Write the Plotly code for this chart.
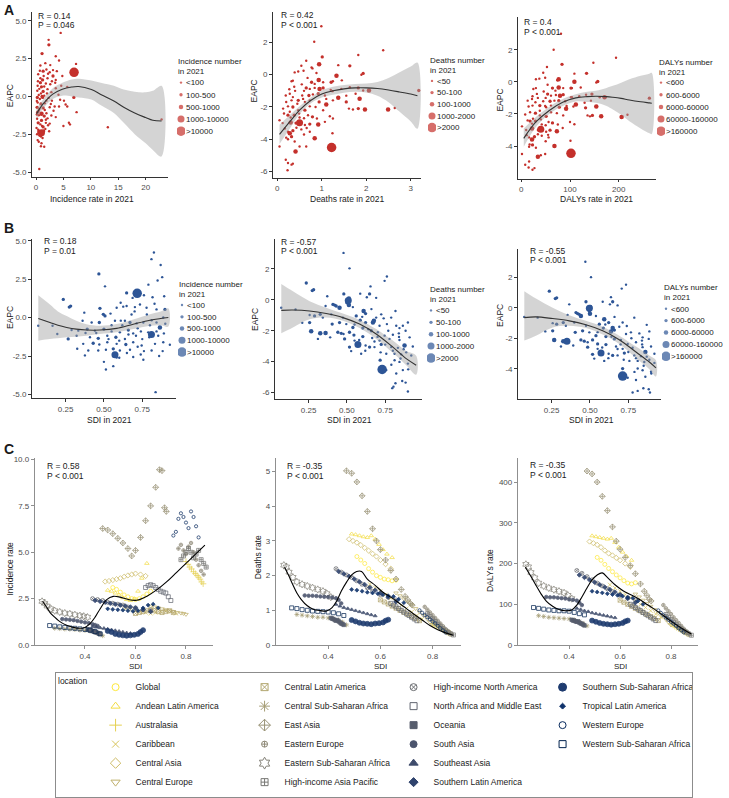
import plotly.graph_objects as go
import plotly.colors as pc

# ======================= DATA =======================
size_labels_inc = ["<100", "100-500", "500-1000", "1000-10000", ">10000"]
size_labels_death = ["<50", "50-100", "100-1000", "1000-2000", ">2000"]
size_labels_daly = ["<600", "600-6000", "6000-60000", "60000-160000", ">160000"]

# ---- A1: incidence rate vs EAPC ----
a1_x = [4.5, 2.3, 2.35, 1.1, 3.6, 4.2, 0.8, 2.6, 7.3, 1.9,
        3.1, 3.8, 1.3, 2.2, 0.4, 4.8, 3.1, 0.8, 1.2, 2.1,
        3.6, 0.8, 1.8, 2.6, 1.0, 3.6, 4.6, 5.7, 0.24, 1.3,
        2.1, 2.8, 4.1, 6.9, 0.24, 0.7, 1.2, 1.9, 2.9, 4.4,
        5.1, 5.4, 5.7, 7.4, 0.2, 0.6, 1.3, 2.5, 3.4, 4.2,
        0.3, 1.0, 1.9, 2.8, 3.6, 0.2, 1.0, 1.8, 2.5, 6.0,
        6.2, 5.0, 0.1, 1.3, 2.2, 13.1, 0.6, 1.0, 1.4, 0.7,
        0.3, 1.0, 1.5, 0.6, 22.9, 6.94, 0.5, 0.9, 1.5, 0.3,
        0.9, 1.6, 2.3, 0.5, 1.5, 2.1, 0.4, 0.8, 1.7, 0.4,
        0.9, 1.2, 0.5, 0.2, 1.6, 2.0, 0.6, 1.5, 3.2, 2.7,
        0.15, 0.35, 1.7, 0.5, 1.1, 2.4, 0.7, 2.9, 1.4, 0.3,
        1.1, 1.8, 0.15, 2.5, 3.5, 0.9]
a1_y = [4.2, 3.74, 3.41, 2.83, 2.65, 2.37, 2.04, 2.07, 2.15, 1.78,
        1.74, 1.67, 1.67, 1.5, 1.46, 1.35, 1.35, 1.2, 1.09, 1.2,
        1.09, 0.91, 0.85, 0.8, 0.63, 0.54, 0.7, 0.63, 0.37, 0.33,
        0.48, 0.28, 0.11, -0.07, -0.07, -0.17, -0.07, -0.28, -0.28, -0.22,
        -0.28, -0.54, -0.67, -1.04, -0.72, -0.83, -0.76, -0.72, -0.67, -0.67,
        -1.04, -1.15, -1.11, -1.26, -1.37, -1.48, -1.59, -1.54, -1.8, -1.74,
        -1.85, -1.96, -2.09, -2.02, -1.91, -2.04, -2.35, -2.41, -2.28, -2.57,
        -2.89, -3.1, -3.33, -4.8, -1.52, 1.59, 0.1, 0.2, 0.05, -0.4,
        -0.5, -0.45, -0.1, -1.25, -1.3, -1.45, -1.75, -1.85, -2.15, -2.2,
        -2.65, -2.75, -3.0, -2.5, -0.9, 0.2, 0.5, 0.65, -0.95, -0.5,
        -0.3, 1.0, 2.2, -0.95, -1.95, -2.3, 1.7, 1.0, 1.35, 0.7,
        0.0, -1.75, -1.2, 1.6, 0.9, -3.3]
a1_cat = [0, 0, 1, 1, 0, 0, 0, 0, 0, 0,
          0, 0, 1, 0, 0, 0, 1, 0, 1, 0,
          0, 1, 0, 0, 1, 0, 0, 0, 0, 1,
          0, 0, 0, 1, 1, 0, 1, 0, 0, 0,
          0, 0, 0, 0, 1, 0, 1, 0, 0, 0,
          1, 2, 0, 0, 0, 0, 1, 0, 0, 0,
          0, 0, 0, 1, 0, 0, 2, 3, 1, 1,
          0, 0, 0, 0, 0, 4, 0, 0, 0, 0,
          1, 0, 0, 0, 1, 0, 1, 0, 0, 0,
          0, 0, 0, 0, 0, 0, 0, 0, 0, 0,
          0, 0, 0, 0, 0, 0, 0, 0, 0, 0,
          1, 0, 0, 0, 0, 0]
a1_fit_x = [0.1, 1.3, 3.06, 4.8, 6.5, 7.8, 10.1, 12.0, 14.2, 16.0, 18.0, 20.0, 21.3, 22.9]
a1_fit_y = [-1.15, -0.5, 0.15, 0.48, 0.62, 0.65, 0.45, 0.1, -0.3, -0.72, -1.1, -1.4, -1.58, -1.63]
a1_fit_hi = [-0.8, -0.2, 0.54, 0.9, 1.12, 1.17, 1.05, 0.88, 0.7, 0.45, 0.3, 0.27, 0.37, 0.7]
a1_fit_lo = [-1.48, -0.8, -0.17, 0.05, 0.0, -0.07, -0.2, -0.62, -1.1, -1.75, -2.5, -3.1, -3.54, -3.98]

# ---- A2: deaths rate vs EAPC ----
a2_x = [0.99, 0.83, 2.38, 1.82, 1.01,
        0.65, 0.54, 0.94, 0.77, 0.79, 1.37, 1.63, 1.93, 1.89,
        0.39, 0.47, 0.59, 0.93, 1.33, 1.21,
        0.32, 0.35, 0.68, 0.77, 0.84, 1.03, 1.25,
        0.65, 0.73, 0.84, 0.95, 1.03, 1.2, 1.44, 1.63, 1.82, 1.93,
        0.19, 0.28, 0.35, 0.56, 0.71, 0.8, 0.92, 1.07, 1.24, 1.37, 1.76, 1.85, 2.06,
        0.2, 0.32, 0.47, 0.62, 0.73, 0.94, 1.1, 1.25, 1.55, 1.61, 1.7, 1.82, 1.97, 2.49, 2.64, 3.18,
        0.13, 0.24, 0.35, 0.47, 0.62, 0.73, 0.86, 1.03, 1.18, 1.25,
        0.05, 0.24, 0.3, 0.38, 0.49, 0.69, 0.79, 0.89,
        0.3, 0.5, 0.62, 0.73, 0.92, 1.07,
        0.17, 0.24, 0.28, 0.35, 0.43, 0.54, 0.73, 0.84, 1.24,
        0.05, 0.24, 0.32, 0.39, 0.5, 0.41, 0.65, 1.22,
        0.19, 0.24, 0.32, 0.35, 0.23,
        0.4, 0.55, 0.6, 0.45, 0.15, 0.28, 0.6, 0.42, 0.2, 0.6,
        0.12, 0.38, 0.58, 1.1, 1.45, 1.55, 0.27, 0.88, 0.5, 0.66]
a2_y = [3.0, 2.04, 1.51, 1.22, 1.1,
        0.86, 0.55, 0.65, 0.45, 0.39, 0.59, 0.55, 0.08, 0.0,
        0.14, 0.2, 0.24, -0.33, -0.06, -0.47,
        -0.41, -0.37, -0.2, -0.47, -0.57, -0.47, -0.41,
        -0.82, -0.88, -0.82, -0.88, -0.82, -0.94, -0.88, -0.78, -0.82, -0.98,
        -1.29, -1.18, -1.39, -1.29, -1.29, -1.22, -1.18, -1.29, -1.02, -1.43, -1.18, -1.49, -0.98,
        -1.69, -1.59, -1.59, -1.69, -1.59, -1.69, -1.84, -1.59, -1.69, -2.1, -2.16, -2.1, -2.16, -2.16, -2.06, -0.98,
        -2.1, -1.96, -2.0, -2.2, -2.2, -1.96, -2.0, -2.2, -2.57, -2.71,
        -2.82, -2.51, -2.65, -2.51, -2.41, -2.51, -2.61, -2.71,
        -2.96, -2.98, -3.12, -3.06, -3.08, -2.92,
        -3.33, -3.53, -3.63, -3.47, -3.29, -3.39, -3.53, -3.94, -3.63,
        -4.45, -4.0, -3.84, -4.14, -4.45, -4.76, -4.45, -4.51,
        -5.27, -5.47, -5.57, -5.51, -5.92,
        -1.0, -0.6, -1.0, -1.8, -2.4, -2.3, -2.7, -3.0, -3.9, -3.7,
        -3.0, -0.75, -1.5, -1.5, -0.35, -1.3, -0.9, 0.1, -2.65, -3.3]
a2_cat = [0, 0, 0, 0, 1,
          0, 0, 2, 0, 0, 0, 1, 1, 0,
          0, 0, 0, 2, 2, 1,
          0, 0, 0, 1, 0, 0, 0,
          1, 0, 0, 2, 1, 0, 0, 0, 1, 0,
          0, 0, 0, 0, 1, 0, 1, 0, 0, 2, 0, 2, 2,
          0, 0, 1, 0, 0, 1, 2, 0, 1, 0, 0, 1, 2, 2, 0, 1,
          0, 0, 1, 0, 1, 0, 0, 0, 0, 0,
          0, 1, 0, 1, 0, 0, 1, 0,
          2, 3, 0, 1, 2, 0,
          0, 0, 2, 1, 0, 0, 0, 2, 0,
          0, 0, 1, 0, 0, 2, 0, 4,
          0, 0, 0, 0, 0,
          0, 0, 0, 0, 0, 0, 0, 1, 0, 0,
          0, 0, 0, 0, 0, 0, 0, 0, 0, 0]
a2_fit_x = [0.05, 0.3, 0.5, 0.75, 1.0, 1.25, 1.5, 1.75, 2.0, 2.25, 2.5, 2.75, 3.0, 3.15]
a2_fit_y = [-3.7, -2.85, -2.2, -1.6, -1.2, -1.0, -0.88, -0.82, -0.82, -0.86, -0.95, -1.07, -1.2, -1.3]
a2_fit_hi = [-3.1, -2.45, -1.95, -1.42, -0.98, -0.75, -0.64, -0.58, -0.55, -0.45, -0.2, 0.15, 0.5, 0.75]
a2_fit_lo = [-4.3, -3.25, -2.45, -1.78, -1.42, -1.25, -1.12, -1.06, -1.1, -1.3, -1.7, -2.3, -2.9, -3.35]

# ---- A3: DALYs rate vs EAPC ----
a3_x = [81.5, 66.4, 194.5, 148, 83.6, 52.7,
        45, 76.7, 74.7, 109, 134, 157, 154,
        30, 37, 49, 76.7, 109, 102,
        24.7, 30, 54, 64, 70, 86, 104,
        54, 61, 71, 79.5, 86, 102, 119, 133, 145, 161,
        13, 22, 29, 45, 59, 68, 77, 90, 104, 112, 143, 154, 171,
        15, 23, 38, 51, 61, 78, 92, 107, 132, 136, 141, 146, 164, 206, 218, 263,
        8, 18, 29, 38, 51, 61, 73, 86, 100, 109,
        1.4, 18, 22, 29, 40, 56, 64, 75,
        22, 40, 51, 59, 73, 85,
        11, 16, 22, 27, 34, 42, 56, 68, 101,
        1.4, 16, 23, 30, 40, 34, 49, 102,
        8, 15, 23, 27, 16,
        34, 46, 50, 38, 13, 24, 50, 35, 17, 50,
        10, 32, 49, 93, 122, 130, 23, 74, 42, 55]
a3_y = [2.99, 2.0, 1.5, 1.19, 1.09, 0.92,
        0.57, 0.16, 0.1, 0.51, 0.53, 0.02, -0.04,
        0.16, 0.2, 0.25, -0.35, 0.0, -0.39,
        -0.45, -0.39, -0.18, -0.39, -0.55, -0.39, -0.39,
        -0.76, -0.86, -0.82, -0.86, -0.8, -0.96, -0.9, -0.8, -0.76, -0.96,
        -1.17, -1.07, -1.27, -1.21, -1.21, -1.17, -1.17, -1.21, -0.96, -1.41, -1.17, -1.54, -0.96,
        -1.54, -1.48, -1.48, -1.58, -1.48, -1.58, -1.68, -1.54, -1.62, -2.09, -2.15, -2.09, -2.15, -2.19, -2.05, -1.02,
        -2.03, -1.89, -1.95, -2.09, -2.15, -1.89, -1.95, -2.09, -2.5, -2.64,
        -2.77, -2.44, -2.6, -2.44, -2.34, -2.5, -2.56, -2.66,
        -2.91, -2.95, -3.11, -3.01, -3.07, -2.87,
        -3.32, -3.46, -3.59, -3.42, -3.26, -3.36, -3.46, -3.99, -3.67,
        -4.49, -4.04, -3.93, -4.1, -4.57, -4.67, -4.49, -4.45,
        -5.16, -5.33, -5.47, -5.37, -4.96,
        -1.0, -0.6, -1.0, -1.8, -2.4, -2.3, -2.7, -3.0, -3.9, -3.7,
        -3.0, -0.75, -1.5, -1.5, -0.35, -1.3, -0.9, 0.1, -2.65, -3.3]
a3_cat = [0, 0, 0, 0, 1, 0,
          0, 2, 0, 0, 1, 1, 0,
          0, 0, 0, 2, 2, 1,
          0, 0, 0, 1, 0, 0, 0,
          1, 0, 0, 2, 1, 0, 0, 0, 1, 0,
          0, 0, 0, 0, 1, 0, 1, 0, 0, 2, 0, 2, 2,
          0, 0, 1, 0, 0, 1, 2, 0, 1, 0, 0, 1, 2, 2, 0, 1,
          0, 0, 1, 0, 1, 0, 0, 0, 0, 0,
          0, 1, 0, 1, 0, 0, 1, 0,
          2, 3, 0, 1, 2, 0,
          0, 0, 2, 1, 0, 0, 0, 2, 0,
          0, 0, 1, 0, 0, 2, 0, 4,
          0, 0, 0, 0, 0,
          0, 0, 0, 0, 0, 0, 0, 1, 0, 0,
          0, 0, 0, 0, 0, 0, 0, 0, 0, 0]
a3_fit_x = [5, 30, 57.5, 85, 112, 135, 153, 175, 188, 205, 222, 245, 263, 268]
a3_fit_y = [-3.52, -2.5, -1.78, -1.27, -1.0, -0.92, -0.9, -0.92, -0.96, -1.03, -1.13, -1.24, -1.31, -1.33]
a3_fit_hi = [-2.91, -2.19, -1.55, -1.07, -0.78, -0.62, -0.55, -0.38, -0.25, -0.05, 0.16, 0.38, 0.51, 0.55]
a3_fit_lo = [-4.04, -2.81, -2.0, -1.5, -1.22, -1.25, -1.3, -1.5, -1.72, -2.05, -2.45, -2.9, -3.2, -3.25]

# ---- B1: SDI vs EAPC (incidence) ----
b1_x = [0.826, 0.81, 0.87, 0.88, 0.467, 0.507, 0.85, 0.79, 0.717,
        0.235, 0.274, 0.283, 0.648, 0.687, 0.761, 0.817, 0.893, 0.609, 0.626,
        0.474, 0.583, 0.648, 0.702, 0.735, 0.778, 0.843, 0.898, 0.372, 0.496, 0.543, 0.507,
        0.072, 0.165, 0.361, 0.42, 0.47, 0.572, 0.637, 0.67, 0.713, 0.757, 0.811, 0.843, 0.887,
        0.289, 0.333, 0.391, 0.441, 0.5, 0.55, 0.604, 0.659, 0.691, 0.741, 0.789, 0.843, 0.865, 0.891,
        0.196, 0.267, 0.322, 0.409, 0.463, 0.522, 0.578, 0.637, 0.709, 0.796, 0.854, 0.81,
        0.365, 0.43, 0.47, 0.522, 0.583, 0.643, 0.691, 0.746, 0.833, 0.887, 0.93,
        0.326, 0.398, 0.463, 0.513, 0.561, 0.604, 0.67, 0.761, 0.811, 0.883,
        0.376, 0.572, 0.6, 0.691, 0.757, 0.5, 0.513, 0.561, 0.837, 0.583,
        0.62, 0.66, 0.72, 0.6, 0.68, 0.75, 0.8, 0.86, 0.55, 0.45,
        0.65, 0.72, 0.78, 0.83, 0.7, 0.38, 0.53, 0.9, 0.61, 0.74]
b1_y = [4.23, 3.8, 3.42, 2.63, 2.84, 2.03, 2.41, 2.14, 1.58,
        1.18, 0.68, 0.75, 1.6, 1.28, 1.45, 1.32, 1.39, 0.96, 0.71,
        0.6, 0.64, 0.75, 0.68, 0.85, 0.64, 0.53, 0.53, 0.32, 0.21, 0.26, 0.11,
        -0.53, -0.53, -0.21, -0.32, -0.32, -0.21, -0.21, -0.32, -0.38, -0.32, -0.17, -0.32, 0.0,
        -0.81, -0.85, -0.75, -0.85, -0.75, -0.9, -0.96, -0.81, -1.03, -0.9, -0.96, -0.9, -0.64, -1.03,
        -1.07, -1.39, -1.18, -1.28, -1.35, -1.18, -1.28, -1.39, -1.18, -1.28, -1.18, -1.1,
        -1.71, -1.67, -1.75, -1.6, -1.71, -1.75, -1.6, -1.82, -1.71, -1.6, -1.77,
        -2.03, -2.14, -2.14, -2.09, -2.03, -2.14, -2.09, -2.18, -2.14, -2.18,
        -2.46, -2.42, -2.61, -2.56, -2.74, -2.88, -3.38, -3.16, -4.85, -2.6,
        -0.5, -1.1, -0.7, -1.5, 0.2, -1.4, -0.5, -2.5, -0.5, -1.0,
        -2.3, -1.9, 0.2, 0.9, 0.4, -1.0, -1.4, -0.4, -0.2, -2.4]
b1_cat = [0, 0, 0, 0, 1, 0, 0, 0, 4,
          1, 1, 1, 1, 0, 0, 0, 0, 0, 0,
          1, 0, 0, 0, 0, 0, 0, 1, 0, 1, 0, 1,
          0, 0, 0, 0, 1, 0, 0, 1, 0, 0, 0, 0, 0,
          0, 0, 1, 0, 1, 0, 0, 1, 0, 0, 0, 0, 2, 0,
          0, 1, 0, 0, 1, 0, 1, 0, 0, 0, 0, 3,
          0, 1, 0, 0, 0, 1, 0, 0, 0, 0, 0,
          0, 0, 0, 0, 1, 0, 0, 0, 0, 0,
          0, 3, 0, 0, 0, 0, 0, 0, 0, 0,
          0, 0, 0, 0, 0, 0, 0, 0, 0, 0,
          0, 0, 0, 0, 0, 0, 0, 0, 0, 0]
b1_fit_x = [0.072, 0.148, 0.2, 0.257, 0.32, 0.387, 0.474, 0.583, 0.691, 0.8, 0.87, 0.92]
b1_fit_y = [-0.06, -0.32, -0.5, -0.64, -0.75, -0.81, -0.81, -0.7, -0.43, -0.17, -0.06, 0.0]
b1_fit_hi = [1.45, 0.85, 0.4, 0.1, -0.2, -0.43, -0.53, -0.42, -0.12, 0.22, 0.4, 0.6]
b1_fit_lo = [-1.5, -1.39, -1.35, -1.28, -1.25, -1.18, -1.07, -0.96, -0.75, -0.53, -0.5, -0.58]

# ---- B2: SDI vs EAPC (deaths) ----
b2_x = [0.478, 0.517, 0.761, 0.746, 0.235, 0.274, 0.283, 0.654, 0.648, 0.48, 0.587, 0.63, 0.691,
        0.509, 0.513, 0.513, 0.5, 0.372, 0.072, 0.165, 0.257, 0.289,
        0.409, 0.42, 0.43, 0.452, 0.361, 0.539, 0.609, 0.622, 0.67, 0.676, 0.724, 0.789, 0.817, 0.865, 0.898,
        0.326, 0.343, 0.398, 0.474, 0.561, 0.587, 0.622, 0.691, 0.713, 0.761, 0.822, 0.843,
        0.209, 0.257, 0.404, 0.452, 0.496, 0.539, 0.604, 0.659, 0.702, 0.746, 0.8, 0.839, 0.883,
        0.267, 0.326, 0.361, 0.441, 0.463, 0.517, 0.478, 0.546, 0.604, 0.665, 0.713, 0.778, 0.843, 0.909,
        0.311, 0.391, 0.485, 0.55, 0.572, 0.622, 0.648, 0.68, 0.724, 0.789, 0.833, 0.876, 0.93,
        0.517, 0.528, 0.593, 0.757, 0.811, 0.854, 0.887, 0.92, 0.717, 0.73, 0.811, 0.843, 0.898,
        0.757, 0.822, 0.865, 0.804, 0.817, 0.861, 0.883, 0.898, 0.796,
        0.64, 0.7, 0.75, 0.8, 0.85, 0.87, 0.77, 0.68, 0.6, 0.55,
        0.72, 0.79, 0.9, 0.66, 0.58, 0.62, 0.84, 0.74]
b2_y = [3.04, 2.04, 1.51, 1.23, 1.09, 0.6, 0.66, 0.87, 0.38, 0.38, 0.4, 0.17, 0.13,
        -0.04, -0.34, 0.09, -0.19, 0.23, -0.51, -0.62, -0.98, -1.04,
        -0.3, -0.34, -0.4, -0.51, -0.4, -0.47, -0.72, -0.89, -1.47, -1.36, -0.94, -1.15, -0.72, -1.68, -1.47,
        -0.94, -1.15, -0.94, -1.15, -1.04, -1.32, -1.47, -1.15, -1.68, -1.57, -1.68, -1.83,
        -1.49, -1.47, -1.57, -1.47, -1.57, -1.79, -1.83, -2.0, -2.1, -2.32, -2.26, -2.17, -2.0,
        -2.04, -2.17, -2.15, -2.1, -2.17, -2.1, -2.21, -2.28, -2.38, -2.47, -2.64, -2.53, -2.6, -2.43,
        -2.53, -2.43, -2.53, -2.64, -2.89, -2.96, -3.06, -3.06, -2.89, -3.06, -3.11, -2.96, -3.02,
        -3.06, -3.32, -3.49, -3.49, -3.49, -3.53, -3.4, -3.6, -3.91, -4.51, -3.91, -4.02, -4.13,
        -4.55, -4.77, -4.55, -5.62, -5.4, -5.26, -5.36, -5.94, -5.72,
        -1.9, -2.4, -2.9, -3.3, -3.8, -3.2, -2.0, -2.7, -1.1, -1.6,
        -3.4, -4.2, -4.5, -0.6, -2.6, -3.3, -2.4, -1.2]
b2_cat = [0, 0, 0, 0, 1, 1, 1, 0, 1, 1, 0, 0, 0,
          3, 2, 2, 1, 0, 0, 0, 0, 1,
          1, 1, 1, 2, 0, 0, 2, 1, 2, 2, 0, 0, 0, 0, 0,
          1, 0, 0, 0, 1, 1, 1, 0, 0, 0, 0, 0,
          0, 1, 1, 1, 0, 1, 1, 1, 0, 0, 0, 0, 0,
          2, 2, 2, 1, 1, 1, 0, 1, 1, 0, 0, 0, 0, 0,
          0, 0, 1, 0, 3, 0, 1, 0, 1, 0, 0, 2, 0,
          1, 0, 0, 0, 0, 0, 0, 0, 1, 4, 0, 0, 0,
          0, 0, 0, 0, 0, 0, 0, 0, 0,
          0, 0, 0, 0, 0, 0, 0, 0, 0, 0,
          0, 0, 0, 0, 0, 0, 0, 0]
b2_fit_x = [0.072, 0.148, 0.257, 0.365, 0.474, 0.583, 0.691, 0.8, 0.887, 0.952]
b2_fit_y = [-0.68, -0.66, -0.72, -0.89, -1.15, -1.57, -2.21, -3.06, -3.81, -4.23]
b2_fit_hi = [1.02, 0.55, -0.09, -0.51, -0.89, -1.3, -1.89, -2.64, -3.32, -3.62]
b2_fit_lo = [-2.17, -1.79, -1.26, -1.15, -1.36, -1.83, -2.53, -3.43, -4.23, -4.85]

# ---- B3: SDI vs EAPC (DALYs) ----
b3_x = [0.47, 0.507, 0.735, 0.707, 0.235, 0.274, 0.283, 0.637, 0.648, 0.474, 0.583, 0.63, 0.68,
        0.496, 0.5, 0.502, 0.496, 0.365, 0.072, 0.159, 0.257, 0.283,
        0.409, 0.42, 0.43, 0.441, 0.354, 0.539, 0.593, 0.622, 0.648, 0.637, 0.713, 0.789, 0.87, 0.887,
        0.326, 0.343, 0.398, 0.474, 0.561, 0.587, 0.659, 0.691, 0.735, 0.767, 0.822, 0.843,
        0.209, 0.257, 0.404, 0.452, 0.496, 0.539, 0.604, 0.659, 0.702, 0.746, 0.8, 0.839, 0.883,
        0.267, 0.326, 0.35, 0.441, 0.463, 0.517, 0.485, 0.55, 0.604, 0.67, 0.713, 0.778, 0.843, 0.898,
        0.311, 0.391, 0.485, 0.55, 0.572, 0.622, 0.648, 0.68, 0.724, 0.789, 0.833, 0.861, 0.92,
        0.517, 0.528, 0.593, 0.757, 0.811, 0.854, 0.887, 0.92, 0.713, 0.713, 0.811, 0.843, 0.898,
        0.746, 0.8, 0.861, 0.778, 0.811, 0.848, 0.883, 0.891,
        0.64, 0.7, 0.75, 0.8, 0.85, 0.87, 0.77, 0.68, 0.6, 0.55,
        0.72, 0.79, 0.9, 0.66, 0.58, 0.62, 0.84, 0.74]
b3_y = [3.01, 2.0, 1.51, 1.25, 1.08, 0.6, 0.65, 0.69, 0.39, 0.39, 0.39, 0.22, 0.15,
        -0.04, -0.39, 0.04, -0.22, 0.22, -0.6, -0.65, -1.01, -1.08,
        -0.32, -0.39, -0.43, -0.54, -0.47, -0.54, -0.75, -0.97, -1.33, -1.55, -0.97, -0.65, -1.12, -1.55,
        -0.97, -1.18, -0.97, -1.18, -1.08, -1.33, -1.46, -1.25, -1.72, -1.61, -1.68, -1.94,
        -1.55, -1.51, -1.61, -1.51, -1.61, -1.83, -1.89, -2.04, -2.11, -2.37, -2.26, -2.15, -2.04,
        -2.11, -2.19, -2.19, -2.11, -2.19, -2.11, -2.26, -2.37, -2.41, -2.54, -2.69, -2.62, -2.58, -2.54,
        -2.54, -2.47, -2.58, -2.69, -2.97, -3.01, -3.12, -3.12, -2.97, -3.12, -3.18, -2.9, -3.01,
        -3.05, -3.33, -3.48, -3.48, -3.48, -3.55, -3.4, -3.61, -3.98, -4.47, -3.98, -4.09, -4.19,
        -4.58, -4.73, -4.52, -5.55, -5.44, -5.27, -5.33, -5.55,
        -1.9, -2.4, -2.9, -3.3, -3.8, -3.2, -2.0, -2.7, -1.1, -1.6,
        -3.4, -4.2, -4.3, -0.6, -2.6, -3.3, -2.4, -1.2]
b3_cat = [0, 0, 0, 0, 1, 1, 1, 0, 1, 1, 0, 0, 0,
          3, 2, 2, 1, 0, 0, 0, 0, 1,
          1, 1, 1, 2, 0, 0, 2, 1, 2, 2, 0, 0, 0, 0,
          1, 0, 0, 0, 1, 1, 1, 0, 0, 0, 0, 0,
          0, 1, 1, 1, 0, 1, 1, 1, 0, 0, 0, 0, 0,
          2, 2, 3, 1, 1, 1, 0, 1, 1, 0, 0, 0, 0, 0,
          0, 0, 1, 0, 3, 0, 1, 0, 1, 0, 0, 2, 0,
          1, 0, 0, 0, 0, 0, 0, 0, 1, 4, 0, 0, 0,
          0, 0, 0, 0, 0, 0, 0, 0,
          0, 0, 0, 0, 0, 0, 0, 0, 0, 0,
          0, 0, 0, 0, 0, 0, 0, 0]
b3_fit_x = [0.072, 0.148, 0.257, 0.365, 0.474, 0.583, 0.691, 0.8, 0.887, 0.93]
b3_fit_y = [-0.65, -0.6, -0.71, -0.86, -1.12, -1.51, -2.09, -2.9, -3.55, -3.94]
b3_fit_hi = [1.08, 0.6, 0.0, -0.49, -0.86, -1.25, -1.83, -2.54, -3.12, -3.44]
b3_fit_lo = [-2.15, -1.83, -1.29, -1.18, -1.33, -1.76, -2.37, -3.29, -4.02, -4.5]

# ---- C: regional trajectories 1990-2021 (SDI vs rate) ----
regions = ["Global", "Andean Latin America", "Australasia", "Caribbean", "Central Asia",
           "Central Europe", "Central Latin America", "Central Sub-Saharan Africa", "East Asia",
           "Eastern Europe", "Eastern Sub-Saharan Africa", "High-income Asia Pacific",
           "High-income North America", "North Africa and Middle East", "Oceania", "South Asia",
           "Southeast Asia", "Southern Latin America", "Southern Sub-Saharan Africa",
           "Tropical Latin America", "Western Europe", "Western Sub-Saharan Africa"]

sdi_by_region = {
    "Global": [0.51, 0.525, 0.54, 0.555, 0.57, 0.585, 0.60, 0.615, 0.63, 0.645, 0.66],
    "Andean Latin America": [0.49, 0.505, 0.52, 0.535, 0.55, 0.565, 0.58, 0.595, 0.61, 0.625, 0.645],
    "Australasia": [0.80, 0.808, 0.815, 0.822, 0.83, 0.837, 0.844, 0.85, 0.856, 0.862, 0.868],
    "Caribbean": [0.56, 0.58, 0.60, 0.62, 0.64, 0.66, 0.68, 0.70, 0.72, 0.74, 0.76],
    "Central Asia": [0.48, 0.495, 0.51, 0.525, 0.54, 0.555, 0.57, 0.585, 0.60, 0.62, 0.64],
    "Central Europe": [0.66, 0.675, 0.69, 0.705, 0.72, 0.735, 0.75, 0.765, 0.78, 0.79, 0.80],
    "Central Latin America": [0.60, 0.615, 0.63, 0.645, 0.66, 0.675, 0.69, 0.705, 0.72, 0.735, 0.75],
    "Central Sub-Saharan Africa": [0.28, 0.30, 0.32, 0.34, 0.36, 0.38, 0.40, 0.42, 0.44, 0.455, 0.47],
    "East Asia": [0.47, 0.49, 0.51, 0.53, 0.55, 0.57, 0.585, 0.60, 0.62, 0.64, 0.66, 0.68, 0.695, 0.705, 0.715, 0.722],
    "Eastern Europe": [0.77, 0.78, 0.79, 0.80, 0.81, 0.82, 0.83, 0.84, 0.85, 0.86, 0.87],
    "Eastern Sub-Saharan Africa": [0.23, 0.24, 0.25, 0.265, 0.28, 0.30, 0.32, 0.34, 0.36, 0.38, 0.395, 0.41],
    "High-income Asia Pacific": [0.78, 0.79, 0.80, 0.81, 0.82, 0.83, 0.84, 0.85, 0.86, 0.87, 0.88],
    "High-income North America": [0.43, 0.45, 0.47, 0.49, 0.51, 0.53, 0.55, 0.57, 0.60, 0.63, 0.66],
    "North Africa and Middle East": [0.64, 0.65, 0.66, 0.67, 0.68, 0.69, 0.70, 0.71, 0.72, 0.73, 0.74],
    "Oceania": [0.41, 0.415, 0.42, 0.425, 0.43, 0.435, 0.44, 0.445, 0.45, 0.455, 0.46],
    "South Asia": [0.31, 0.325, 0.34, 0.355, 0.37, 0.385, 0.40, 0.415, 0.43, 0.44, 0.45],
    "Southeast Asia": [0.43, 0.445, 0.46, 0.475, 0.49, 0.505, 0.52, 0.535, 0.55, 0.565, 0.58],
    "Southern Latin America": [0.44, 0.46, 0.48, 0.50, 0.52, 0.54, 0.56, 0.58, 0.60, 0.63, 0.66],
    "Southern Sub-Saharan Africa": [0.49, 0.505, 0.52, 0.535, 0.55, 0.565, 0.58, 0.595, 0.61, 0.62, 0.63],
    "Tropical Latin America": [0.49, 0.51, 0.53, 0.55, 0.57, 0.59, 0.61, 0.63, 0.65, 0.67, 0.69],
    "Western Europe": [0.75, 0.76, 0.77, 0.78, 0.79, 0.80, 0.81, 0.82, 0.83, 0.84, 0.85],
    "Western Sub-Saharan Africa": [0.26, 0.28, 0.30, 0.32, 0.34, 0.36, 0.38, 0.40, 0.42, 0.44, 0.46],
}
inc_by_region = {
    "Global": [3.1, 3.0, 2.85, 2.7, 2.6, 2.5, 2.45, 2.5, 2.6, 2.75, 2.9],
    "Andean Latin America": [2.95, 2.9, 2.8, 2.7, 2.55, 2.45, 2.4, 2.5, 2.9, 3.6, 4.4],
    "Australasia": [4.5, 4.35, 4.2, 4.1, 3.95, 3.85, 3.75, 3.65, 3.55, 3.4, 3.3],
    "Caribbean": [1.95, 1.9, 1.85, 1.8, 1.75, 1.7, 1.75, 1.8, 1.85, 1.8, 1.7],
    "Central Asia": [3.42, 3.45, 3.5, 3.55, 3.6, 3.68, 3.75, 3.8, 3.85, 3.8, 3.72],
    "Central Europe": [2.1, 2.05, 2.0, 1.95, 1.9, 1.85, 1.8, 1.75, 1.72, 1.7, 1.65],
    "Central Latin America": [1.7, 1.75, 1.8, 1.85, 1.9, 1.85, 1.8, 1.75, 1.8, 1.85, 1.75],
    "Central Sub-Saharan Africa": [0.9, 0.88, 0.86, 0.85, 0.83, 0.8, 0.78, 0.75, 0.7, 0.6, 0.5],
    "East Asia": [6.28, 6.2, 6.0, 5.75, 5.5, 5.2, 4.8, 5.1, 5.8, 6.7, 7.5, 8.5, 9.45, 9.4, 7.4, 7.2],
    "Eastern Europe": [5.2, 5.4, 5.1, 4.9, 5.3, 5.5, 5.0, 4.6, 4.3, 4.0, 3.8],
    "Eastern Sub-Saharan Africa": [2.35, 2.25, 2.1, 1.95, 1.85, 1.78, 1.72, 1.68, 1.63, 1.58, 1.55, 1.5],
    "High-income Asia Pacific": [4.6, 4.8, 5.0, 5.2, 5.0, 4.7, 4.9, 5.1, 4.6, 4.4, 4.2],
    "High-income North America": [2.5, 2.45, 2.4, 2.3, 2.25, 2.2, 2.15, 2.05, 2.0, 1.9, 1.85],
    "North Africa and Middle East": [3.1, 3.2, 3.25, 3.2, 3.1, 3.0, 2.9, 2.85, 2.8, 2.6, 2.4],
    "Oceania": [0.85, 0.82, 0.8, 0.78, 0.75, 0.72, 0.7, 0.68, 0.65, 0.62, 0.6],
    "South Asia": [1.4, 1.38, 1.36, 1.34, 1.3, 1.26, 1.22, 1.18, 1.12, 1.08, 1.03],
    "Southeast Asia": [0.99, 0.96, 0.93, 0.9, 0.86, 0.82, 0.78, 0.74, 0.7, 0.66, 0.63],
    "Southern Latin America": [2.4, 2.35, 2.3, 2.25, 2.2, 2.15, 2.1, 2.05, 2.0, 1.9, 1.8],
    "Southern Sub-Saharan Africa": [0.76, 0.7, 0.6, 0.55, 0.52, 0.5, 0.52, 0.55, 0.6, 0.7, 0.8],
    "Tropical Latin America": [1.95, 1.92, 1.9, 1.88, 1.85, 1.82, 1.85, 2.0, 2.15, 2.2, 2.0],
    "Western Europe": [5.9, 6.1, 6.8, 7.1, 6.9, 6.6, 6.3, 7.2, 6.9, 6.4, 5.8],
    "Western Sub-Saharan Africa": [1.05, 1.02, 0.98, 0.95, 0.92, 0.9, 0.87, 0.84, 0.8, 0.72, 0.6],
}
death_by_region = {
    "Global": [2.55, 2.45, 2.35, 2.2, 2.1, 2.0, 1.95, 1.9, 1.88, 1.85, 1.87],
    "Andean Latin America": [3.2, 3.18, 3.15, 3.12, 3.1, 3.15, 3.05, 2.9, 2.75, 2.62, 2.52],
    "Australasia": [0.62, 0.58, 0.55, 0.52, 0.49, 0.46, 0.43, 0.4, 0.37, 0.35, 0.33],
    "Caribbean": [1.75, 1.65, 1.55, 1.45, 1.35, 1.25, 1.15, 1.05, 0.95, 0.85, 0.75],
    "Central Asia": [3.05, 3.0, 2.95, 2.88, 2.8, 2.72, 2.63, 2.55, 2.45, 2.33, 2.2],
    "Central Europe": [1.5, 1.42, 1.33, 1.24, 1.15, 1.05, 0.95, 0.85, 0.75, 0.66, 0.58],
    "Central Latin America": [1.3, 1.24, 1.18, 1.12, 1.06, 1.0, 0.94, 0.88, 0.82, 0.76, 0.7],
    "Central Sub-Saharan Africa": [0.88, 0.86, 0.84, 0.82, 0.8, 0.8, 0.78, 0.76, 0.72, 0.66, 0.58],
    "East Asia": [5.02, 4.95, 4.7, 4.3, 3.85, 3.35, 3.0, 2.75, 2.45, 2.15, 1.9, 1.6, 1.4, 1.3, 1.2, 1.15],
    "Eastern Europe": [1.1, 1.02, 0.94, 0.86, 0.78, 0.7, 0.62, 0.54, 0.46, 0.4, 0.34],
    "Eastern Sub-Saharan Africa": [2.3, 2.25, 2.1, 1.95, 1.82, 1.75, 1.7, 1.65, 1.6, 1.55, 1.48, 1.38],
    "High-income Asia Pacific": [0.9, 0.82, 0.75, 0.68, 0.6, 0.53, 0.47, 0.41, 0.36, 0.32, 0.29],
    "High-income North America": [2.2, 2.1, 2.02, 1.95, 1.85, 1.75, 1.65, 1.55, 1.45, 1.38, 1.3],
    "North Africa and Middle East": [1.2, 1.15, 1.1, 1.05, 1.0, 0.95, 0.9, 0.85, 0.8, 0.75, 0.7],
    "Oceania": [0.78, 0.76, 0.75, 0.72, 0.7, 0.72, 0.68, 0.65, 0.62, 0.6, 0.58],
    "South Asia": [1.43, 1.42, 1.42, 1.41, 1.4, 1.39, 1.38, 1.37, 1.35, 1.3, 1.2],
    "Southeast Asia": [1.17, 1.12, 1.08, 1.05, 1.02, 0.99, 0.96, 0.93, 0.9, 0.87, 0.84],
    "Southern Latin America": [2.12, 2.05, 1.98, 1.9, 1.82, 1.74, 1.66, 1.58, 1.5, 1.38, 1.25],
    "Southern Sub-Saharan Africa": [0.72, 0.68, 0.64, 0.62, 0.61, 0.6, 0.62, 0.63, 0.65, 0.7, 0.73],
    "Tropical Latin America": [1.6, 1.58, 1.55, 1.52, 1.5, 1.48, 1.45, 1.42, 1.4, 1.32, 1.22],
    "Western Europe": [1.0, 0.93, 0.86, 0.8, 0.74, 0.68, 0.62, 0.55, 0.48, 0.42, 0.36],
    "Western Sub-Saharan Africa": [1.07, 1.05, 1.02, 1.0, 0.98, 0.97, 0.96, 0.95, 0.93, 0.9, 0.85],
}
daly_by_region = {
    "Global": [215, 208, 198, 188, 180, 172, 165, 158, 152, 150, 153],
    "Andean Latin America": [268, 266, 264, 262, 260, 262, 252, 240, 228, 218, 208],
    "Australasia": [52, 49, 46, 43, 40, 38, 35, 33, 31, 29, 27],
    "Caribbean": [148, 140, 132, 124, 116, 108, 100, 92, 84, 76, 68],
    "Central Asia": [254, 250, 246, 240, 232, 225, 220, 214, 208, 200, 192],
    "Central Europe": [125, 118, 110, 102, 95, 87, 79, 71, 63, 56, 49],
    "Central Latin America": [110, 105, 100, 95, 90, 85, 80, 75, 70, 65, 60],
    "Central Sub-Saharan Africa": [72, 70, 68, 67, 66, 65, 64, 62, 58, 53, 47],
    "East Asia": [427, 420, 400, 365, 330, 290, 255, 235, 215, 195, 175, 150, 132, 122, 112, 108],
    "Eastern Europe": [98, 90, 83, 76, 68, 61, 54, 47, 40, 34, 29],
    "Eastern Sub-Saharan Africa": [198, 192, 178, 165, 152, 145, 140, 136, 132, 128, 122, 114],
    "High-income Asia Pacific": [75, 68, 62, 56, 50, 45, 40, 35, 31, 27, 24],
    "High-income North America": [183, 176, 168, 160, 152, 145, 138, 130, 122, 116, 110],
    "North Africa and Middle East": [100, 96, 92, 88, 84, 80, 76, 72, 68, 64, 60],
    "Oceania": [62, 60, 60, 58, 57, 58, 55, 53, 52, 50, 48],
    "South Asia": [118, 117, 117, 116, 115, 114, 112, 111, 109, 104, 98],
    "Southeast Asia": [90, 87, 84, 82, 79, 77, 75, 73, 71, 69, 67],
    "Southern Latin America": [172, 166, 160, 154, 148, 142, 136, 130, 124, 114, 104],
    "Southern Sub-Saharan Africa": [60, 57, 54, 52, 51, 50, 51, 52, 54, 58, 60],
    "Tropical Latin America": [132, 130, 128, 126, 124, 122, 120, 117, 115, 108, 100],
    "Western Europe": [85, 79, 73, 67, 62, 57, 52, 47, 41, 36, 31],
    "Western Sub-Saharan Africa": [92, 90, 88, 86, 85, 84, 84, 83, 80, 77, 74],
}
c1_fit_x = [0.232, 0.25, 0.261, 0.28, 0.294, 0.31, 0.327, 0.354, 0.38, 0.40, 0.42, 0.44, 0.459,
            0.486, 0.512, 0.539, 0.572, 0.605, 0.644, 0.684, 0.723, 0.763, 0.803, 0.842, 0.875]
c1_fit_y = [2.36, 2.0, 1.76, 1.5, 1.33, 1.18, 1.07, 0.95, 0.9, 0.95, 1.15, 1.5, 1.93,
            2.45, 2.62, 2.58, 2.45, 2.41, 2.62, 2.97, 3.4, 3.92, 4.44, 4.95, 5.38]
c2_fit_x = [0.233, 0.25, 0.265, 0.28, 0.297, 0.32, 0.342, 0.37, 0.394, 0.415, 0.432, 0.45, 0.471, 0.49,
            0.509, 0.528, 0.55, 0.58, 0.61, 0.64, 0.67, 0.70, 0.73, 0.76, 0.79, 0.82, 0.85, 0.88]
c2_fit_y = [2.24, 1.98, 1.73, 1.5, 1.31, 1.13, 1.03, 0.99, 0.98, 1.08, 1.26, 1.55, 1.82, 2.02,
            2.12, 2.12, 1.9, 1.72, 1.52, 1.38, 1.22, 1.05, 0.88, 0.72, 0.56, 0.44, 0.35, 0.28]
c3_fit_x = [0.228, 0.25, 0.27, 0.29, 0.31, 0.335, 0.36, 0.385, 0.41, 0.43, 0.45, 0.47, 0.49, 0.51,
            0.53, 0.55, 0.58, 0.61, 0.64, 0.67, 0.70, 0.73, 0.76, 0.79, 0.82, 0.85, 0.88]
c3_fit_y = [191, 168, 146, 125, 108, 95, 87, 84, 86, 98, 118, 140, 160, 172,
            177, 166, 148, 134, 124, 114, 102, 90, 77, 63, 50, 38, 27]

# tick labels
ticks_a1_y = [5.0, 2.5, 0.0, -2.5, -5.0]; ticklab_a1_y = ["5.0", "2.5", "0.0", "-2.5", "-5.0"]
ticks_a1_x = [0, 5, 10, 15, 20]; ticklab_a1_x = ["0", "5", "10", "15", "20"]
ticks_a2_y = [2, 0, -2, -4, -6]; ticklab_a2_y = ["2", "0", "-2", "-4", "-6"]
ticks_a2_x = [0, 1, 2, 3]; ticklab_a2_x = ["0", "1", "2", "3"]
ticks_a3_y = [2, 0, -2, -4]; ticklab_a3_y = ["2", "0", "-2", "-4"]
ticks_a3_x = [0, 100, 200]; ticklab_a3_x = ["0", "100", "200"]
ticks_sdi = [0.25, 0.50, 0.75]; ticklab_sdi = ["0.25", "0.50", "0.75"]
ticks_c_x = [0.4, 0.6, 0.8]; ticklab_c_x = ["0.4", "0.6", "0.8"]
ticks_c1_y = [0, 2.5, 5, 7.5, 10]; ticklab_c1_y = ["0.0", "2.5", "5.0", "7.5", "10.0"]
ticks_c2_y = [0, 1, 2, 3, 4, 5]; ticklab_c2_y = ["0", "1", "2", "3", "4", "5"]
ticks_c3_y = [0, 100, 200, 300, 400]; ticklab_c3_y = ["0", "100", "200", "300", "400"]

# ======================= STYLE / LAYOUT =======================
W, H = 729, 798
FONT = "Liberation Sans, Arial, Helvetica, sans-serif"
RED = "#C4302B"
BLUE = "#2D5596"
TXT = "#1a1a1a"
TICKC = "#4D4D4D"
SIZE_PX = [2.4, 3.3, 4.5, 7.0, 9.5]


def fx(p):
    return p / W


def fy(p):
    return 1 - p / H


def ax_ids(n):
    return ("x" if n == 1 else f"x{n}", "y" if n == 1 else f"y{n}")


fig = go.Figure()
layout = dict(width=W, height=H, margin=dict(l=0, r=0, t=0, b=0),
              paper_bgcolor="white", plot_bgcolor="white",
              font=dict(family=FONT, size=8, color=TXT), showlegend=True,
              hovermode=False)


def add_axes(n, xpx, ypx, xr, yr, xt, xtt, yt, ytt, lc="#333333", lw=0.8):
    xid, yid = ax_ids(n)
    common = dict(showline=True, linecolor=lc, linewidth=lw, ticks="outside", ticklen=3,
                  tickwidth=lw, tickcolor=lc, showgrid=False, zeroline=False,
                  tickfont=dict(size=8, color=TICKC, family=FONT), fixedrange=True)
    layout["xaxis" if n == 1 else f"xaxis{n}"] = dict(
        domain=[fx(xpx[0]), fx(xpx[1])], range=xr, anchor=yid,
        tickvals=xt, ticktext=xtt, **common)
    layout["yaxis" if n == 1 else f"yaxis{n}"] = dict(
        domain=[fy(ypx[1]), fy(ypx[0])], range=yr, anchor=xid,
        tickvals=yt, ticktext=ytt, **common)


def scatter_panel(n, xs, ys, cats, color, fx_, fy_, fhi, flo):
    xid, yid = ax_ids(n)
    for c in range(5):
        sx = [x for x, k in zip(xs, cats) if k == c]
        sy = [y for y, k in zip(ys, cats) if k == c]
        fig.add_trace(go.Scatter(x=sx, y=sy, mode="markers", xaxis=xid, yaxis=yid,
                                 marker=dict(size=SIZE_PX[c], color=color, line=dict(width=0)),
                                 showlegend=False, hoverinfo="skip"))
    fig.add_trace(go.Scatter(x=fx_ + fx_[::-1], y=fhi + flo[::-1], mode="lines", fill="toself",
                             fillcolor="rgba(160,160,160,0.45)", line=dict(width=0, shape="spline"),
                             xaxis=xid, yaxis=yid, showlegend=False, hoverinfo="skip"))
    fig.add_trace(go.Scatter(x=fx_, y=fy_, mode="lines", line=dict(color="#333333", width=1.1, shape="spline"),
                             xaxis=xid, yaxis=yid, showlegend=False, hoverinfo="skip"))


def size_legend(n, mx, y_first, y_last, labels, color, title, tx, ty):
    xid, yid = ax_ids(n)
    step = (y_last - y_first) / 4
    layout[f"xaxis{n}"] = dict(domain=[fx(mx - 4), fx(mx + 4)], range=[-1, 1], visible=False,
                               fixedrange=True, anchor=yid)
    layout[f"yaxis{n}"] = dict(domain=[fy(y_last + step / 2), fy(y_first - step / 2)],
                               type="category", categoryorder="array", categoryarray=labels,
                               range=[4.5, -0.5], side="right", anchor=xid, showline=False,
                               showgrid=False, zeroline=False, ticks="", fixedrange=True,
                               tickfont=dict(size=8, color=TXT, family=FONT))
    fig.add_trace(go.Scatter(x=[0] * len(labels), y=labels, mode="markers", xaxis=xid, yaxis=yid,
                             marker=dict(size=SIZE_PX, color=color, line=dict(width=0)),
                             showlegend=False, hoverinfo="skip"))
    annotations.append(dict(x=fx(tx), y=fy(ty), xref="paper", yref="paper", text=title,
                            showarrow=False, xanchor="left", yanchor="middle", align="left",
                            font=dict(size=8, color=TXT, family=FONT)))


annotations = []

# ---- axes ----
add_axes(1, (32, 168), (10, 177), [-0.73, 24.07], [-5.3, 5.59], ticks_a1_x, ticklab_a1_x, ticks_a1_y, ticklab_a1_y)
add_axes(2, (273, 421), (10, 178), [-0.097, 3.23], [-6.37, 3.89], ticks_a2_x, ticklab_a2_x, ticks_a2_y, ticklab_a2_y)
add_axes(3, (518, 656), (15, 179), [-6.8, 276.6], [-6.02, 4.05], ticks_a3_x, ticklab_a3_x, ticks_a3_y, ticklab_a3_y)
add_axes(4, (32, 176), (240, 402), [0.031, 0.97], [-5.26, 5.13], ticks_sdi, ticklab_sdi, ticks_a1_y, ticklab_a1_y)
add_axes(5, (275, 422), (240, 403), [0.031, 0.99], [-6.45, 3.96], ticks_sdi, ticklab_sdi, ticks_a2_y, ticklab_a2_y)
add_axes(6, (518, 661), (250, 403), [0.031, 0.963], [-6.0, 3.87], ticks_sdi, ticklab_sdi, ticks_a3_y, ticklab_a3_y)
add_axes(7, (35, 213), (462, 652), [0.202, 0.907], [0, 10.1], ticks_c_x, ticklab_c_x, ticks_c1_y, ticklab_c1_y, lc="#8f8f8f", lw=1.3)
add_axes(8, (276, 461), (462, 652), [0.2, 0.909], [0, 5.4], ticks_c_x, ticklab_c_x, ticks_c2_y, ticklab_c2_y, lc="#8f8f8f", lw=1.3)
add_axes(9, (518, 698), (462, 652), [0.199, 0.906], [0, 460], ticks_c_x, ticklab_c_x, ticks_c3_y, ticklab_c3_y, lc="#8f8f8f", lw=1.3)

# ---- A / B scatter panels ----
scatter_panel(1, a1_x, a1_y, a1_cat, RED, a1_fit_x, a1_fit_y, a1_fit_hi, a1_fit_lo)
scatter_panel(2, a2_x, a2_y, a2_cat, RED, a2_fit_x, a2_fit_y, a2_fit_hi, a2_fit_lo)
scatter_panel(3, a3_x, a3_y, a3_cat, RED, a3_fit_x, a3_fit_y, a3_fit_hi, a3_fit_lo)
scatter_panel(4, b1_x, b1_y, b1_cat, BLUE, b1_fit_x, b1_fit_y, b1_fit_hi, b1_fit_lo)
scatter_panel(5, b2_x, b2_y, b2_cat, BLUE, b2_fit_x, b2_fit_y, b2_fit_hi, b2_fit_lo)
scatter_panel(6, b3_x, b3_y, b3_cat, BLUE, b3_fit_x, b3_fit_y, b3_fit_hi, b3_fit_lo)

# ---- size legends ----
size_legend(10, 181, 81.7, 131, size_labels_inc, RED, "Incidence number<br>in 2021", 175.5, 65.5)
size_legend(11, 432, 80, 127.3, size_labels_death, RED, "Deaths number<br>in 2021", 427.5, 64.5)
size_legend(12, 661, 81.7, 131, size_labels_daly, RED, "DALYs number<br>in 2021", 657, 66.5)
size_legend(13, 182, 307.3, 355, size_labels_inc, BLUE, "Incidence number<br>in 2021", 177, 291.5)
size_legend(14, 431, 312.7, 361, size_labels_death, BLUE, "Deaths number<br>in 2021", 427.5, 296.7)
size_legend(15, 666, 311, 359.3, size_labels_daly, BLUE, "DALYs number<br>in 2021", 661.5, 295)

# ---- C panels ----
cmap = pc.sample_colorscale(pc.sequential.Cividis, [i / 21 for i in range(22)], colortype="rgb")
colors = cmap[::-1]
symbols = ["circle-open", "triangle-up-open", "cross-thin-open", "x-thin-open", "diamond-open",
           "triangle-down-open", "square-x-open", "asterisk-open", "diamond-cross-open",
           "circle-cross-open", "hexagram-open", "square-cross-open", "circle-x-open",
           "square-open", "square", "circle", "triangle-up", "diamond", "circle", "diamond",
           "circle-open", "square-open"]
msize = [4, 4, 4.5, 4, 4, 4, 4, 4, 4.5, 3.5, 5.5, 4, 4, 4, 3.5, 3.5, 3.5, 3.5, 5, 3, 3.2, 4]
lsize = [7, 8, 9, 7, 8, 8, 7, 9, 9, 6, 9, 7, 7, 7, 7, 7, 8, 7, 8, 4.5, 7, 7]

for i, reg in enumerate(regions):
    rank = (i % 6) * 4 + (i // 6) if i < 18 else (i - 18) * 4 + 3
    for n, vals in [(7, inc_by_region), (8, death_by_region), (9, daly_by_region)]:
        xid, yid = ax_ids(n)
        fig.add_trace(go.Scatter(x=sdi_by_region[reg], y=vals[reg], mode="markers", name=reg,
                                 xaxis=xid, yaxis=yid, showlegend=False, hoverinfo="skip",
                                 marker=dict(symbol=symbols[i], size=msize[i], color=colors[i],
                                             opacity=0.9, line=dict(width=0.8, color=colors[i]))))
    # legend-only entry
    fig.add_trace(go.Scatter(x=[None], y=[None], mode="markers", name=reg, xaxis="x7", yaxis="y7",
                             legendrank=100 + rank, showlegend=True,
                             marker=dict(symbol=symbols[i], size=lsize[i], color=colors[i],
                                         line=dict(width=1, color=colors[i]))))
for r in (19, 23):
    fig.add_trace(go.Scatter(x=[None], y=[None], mode="markers", name=" ", xaxis="x7", yaxis="y7",
                             legendrank=100 + r, showlegend=True,
                             marker=dict(size=1, color="rgba(0,0,0,0)")))

for n, sx, sy in [(7, c1_fit_x, c1_fit_y), (8, c2_fit_x, c2_fit_y), (9, c3_fit_x, c3_fit_y)]:
    xid, yid = ax_ids(n)
    fig.add_trace(go.Scatter(x=sx, y=sy, mode="lines", line=dict(color="black", width=1.1, shape="spline"),
                             xaxis=xid, yaxis=yid, showlegend=False, hoverinfo="skip"))

layout["legend"] = dict(orientation="h", x=fx(55), y=fy(679), xanchor="left", yanchor="top",
                        bordercolor="#8c8c8c", borderwidth=1, bgcolor="white",
                        font=dict(size=8.5, color=TXT, family=FONT),
                        title=dict(text="location", side="left", font=dict(size=8.5, family=FONT)),
                        entrywidth=104, entrywidthmode="pixels", itemwidth=30,
                        traceorder="normal", itemsizing="trace", tracegroupgap=0)


# ---- text annotations ----
def txt(x, y, s, size=8.5, xa="left", ya="middle", angle=0, bold=False):
    annotations.append(dict(x=fx(x), y=fy(y), xref="paper", yref="paper", text=(f"<b>{s}</b>" if bold else s),
                            showarrow=False, xanchor=xa, yanchor=ya, textangle=angle,
                            font=dict(size=size, color=TXT, family=FONT)))


txt(2, 8, "A", size=14, bold=True)
txt(2, 229.5, "B", size=14, bold=True)
txt(2, 453.5, "C", size=14, bold=True)

for (x, yr, yp, r, p) in [(36, 14, 23, "R = 0.14", "P = 0.046"),
                          (279, 13.3, 23.3, "R = 0.42", "P < 0.001"),
                          (522, 20, 30.7, "R = 0.4", "P < 0.001"),
                          (42.3, 242.7, 252.3, "R = 0.18", "P = 0.01"),
                          (279, 243.3, 252.7, "R = -0.57", "P < 0.001"),
                          (527.7, 252.3, 261.7, "R = -0.55", "P < 0.001"),
                          (45, 470.7, 481, "R = 0.58", "P < 0.001"),
                          (284.7, 470, 480.7, "R = -0.35", "P < 0.001"),
                          (527.7, 469, 479.3, "R = -0.35", "P < 0.001")]:
    txt(x, yr, r)
    txt(x, yp, p)

txt(92, 199.5, "Incidence rate in 2021", xa="center")
txt(347, 199.5, "Deaths rate in 2021", xa="center")
txt(596, 199.5, "DALYs rate in 2021", xa="center")
txt(9.5, 95, "EAPC", xa="center", angle=-90)
txt(253.7, 90, "EAPC", xa="center", angle=-90)
txt(500, 100, "EAPC", xa="center", angle=-90)
txt(9.5, 320, "EAPC", xa="center", angle=-90)
txt(255.7, 321.7, "EAPC", xa="center", angle=-90)
txt(500, 318.3, "EAPC", xa="center", angle=-90)
txt(109, 424, "SDI in 2021", xa="center")
txt(349, 424, "SDI in 2021", xa="center")
txt(591.5, 424, "SDI in 2021", xa="center")
txt(10.5, 575, "Incidence rate", xa="center", angle=-90)
txt(258, 563, "Deaths rate", xa="center", angle=-90)
txt(490, 577, "DALYs rate", xa="center", angle=-90)
txt(135, 673.5, "SDI", xa="center", size=8)
txt(380, 673.5, "SDI", xa="center", size=8)
txt(620, 673.5, "SDI", xa="center", size=8)

layout["annotations"] = annotations
fig.update_layout(**layout)
fig.write_html("out.html", config={"displayModeBar": False},
               post_script="document.body.style.margin='0';document.body.style.padding='0';")
